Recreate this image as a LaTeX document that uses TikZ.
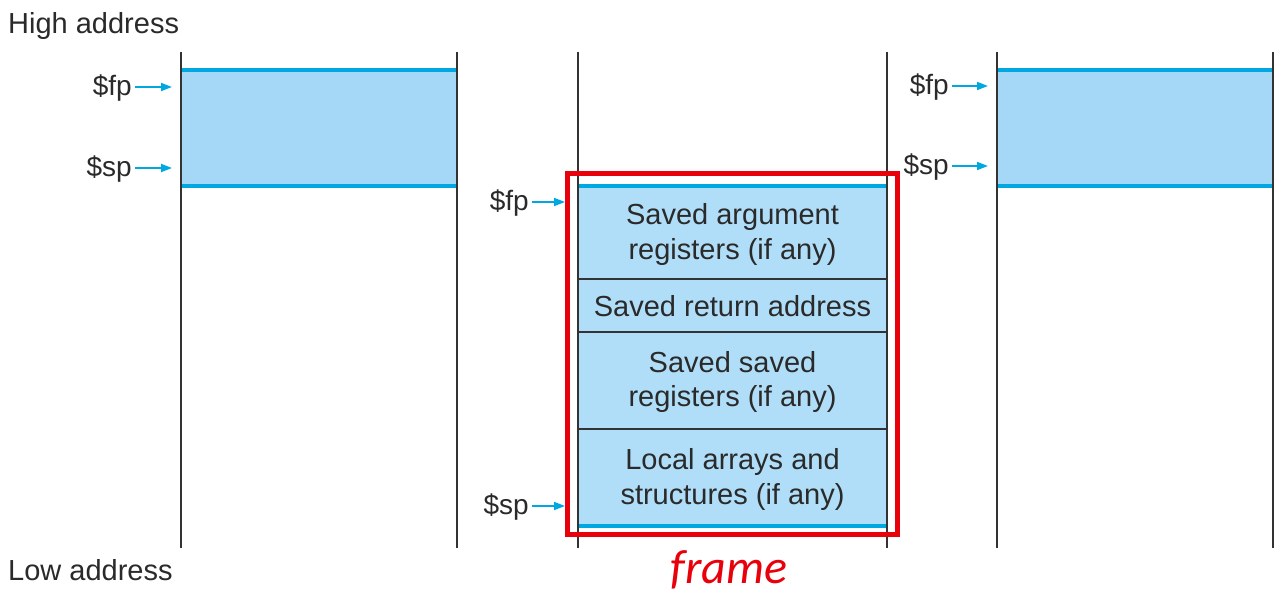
\documentclass[tikz,border=0pt]{standalone}
\usepackage{fontspec}
\setmainfont{Liberation Sans}
\newfontfamily\framefont{Carlito}
\usetikzlibrary{arrows.meta}
\definecolor{cyanline}{HTML}{00A8E1}
\definecolor{sidefill}{HTML}{A5D7F6}
\definecolor{midfill}{HTML}{B0DDF7}
\definecolor{framered}{HTML}{E8000B}
\definecolor{wallgray}{HTML}{333333}
\definecolor{txt}{HTML}{2A2A2A}
\tikzset{
  wall/.style={draw=wallgray, line width=1.5pt},
  edge/.style={draw=cyanline, line width=4pt},
  divider/.style={draw=wallgray, line width=1.3pt},
  ptr/.style={draw=cyanline, line width=1.8pt, -{Triangle[length=11pt,width=8pt]}, shorten <=1pt},
  reglabel/.style={text=txt, font=\fontsize{28}{32}\selectfont, inner sep=2pt, anchor=east},
  celltext/.style={text=txt, font=\fontsize{29}{35}\selectfont, align=center, inner sep=0pt},
  addr/.style={text=txt, font=\fontsize{29}{32}\selectfont, inner sep=0pt, anchor=base west},
}
\begin{document}
\begin{tikzpicture}[x=1pt,y=-1pt]
\useasboundingbox (0,0) rectangle (1288,596);

% address labels
\node[addr] (high) at (8,34) {High address};
\node[addr] (low) at (8,580) {Low address};

% ---------- left stack ----------
\fill[sidefill] (181,70) rectangle (457,186);
\draw[edge] (181,70) -- (457,70);
\draw[edge] (181,186) -- (457,186);
\draw[wall] (181,52) -- (181,548);
\draw[wall] (457,52) -- (457,548);
\node[reglabel] (fpL) at (134,88) {\$fp};
\node[reglabel] (spL) at (134,169) {\$sp};
\coordinate (fpLend) at (172,87);
\coordinate (spLend) at (172,168);
\draw[ptr] (fpL.east |- fpLend) -- (fpLend);
\draw[ptr] (spL.east |- spLend) -- (spLend);

% ---------- middle stack ----------
\fill[midfill] (578,186) rectangle (887,526);
\draw[divider] (578,279) -- (887,279);
\draw[divider] (578,332) -- (887,332);
\draw[divider] (578,429) -- (887,429);
\draw[edge] (578,186) -- (887,186);
\draw[edge] (578,526) -- (887,526);
\draw[wall] (578,52) -- (578,548);
\draw[wall] (887,52) -- (887,548);
\node[celltext] (args) at (732.5,235) {Saved argument\\registers (if any)};
\node[celltext] (ret) at (732.5,306.5) {Saved return address};
\node[celltext] (saved) at (732.5,382) {Saved saved\\registers (if any)};
\node[celltext] (local) at (732.5,479) {Local arrays and\\structures (if any)};
\node[reglabel] (fpM) at (531,203.5) {\$fp};
\node[reglabel] (spM) at (531,507.5) {\$sp};
\coordinate (fpMend) at (565,202);
\coordinate (spMend) at (565,506);
\draw[ptr] (fpM.east |- fpMend) -- (fpMend);
\draw[ptr] (spM.east |- spMend) -- (spMend);

% frame box
\draw[draw=framered, line width=5pt] (567,173.5) rectangle (897,534.5);
\node[text=framered, font=\framefont\itshape\fontsize{48}{52}\selectfont, inner sep=0pt, anchor=base] (frame) at (729,583) {frame};

% ---------- right stack ----------
\fill[sidefill] (997,70) rectangle (1273,186);
\draw[edge] (997,70) -- (1273,70);
\draw[edge] (997,186) -- (1273,186);
\draw[wall] (997,52) -- (997,548);
\draw[wall] (1273,52) -- (1273,548);
\node[reglabel] (fpR) at (951,87.5) {\$fp};
\node[reglabel] (spR) at (951,167.5) {\$sp};
\coordinate (fpRend) at (988,86);
\coordinate (spRend) at (988,166);
\draw[ptr] (fpR.east |- fpRend) -- (fpRend);
\draw[ptr] (spR.east |- spRend) -- (spRend);
\end{tikzpicture}
\end{document}
